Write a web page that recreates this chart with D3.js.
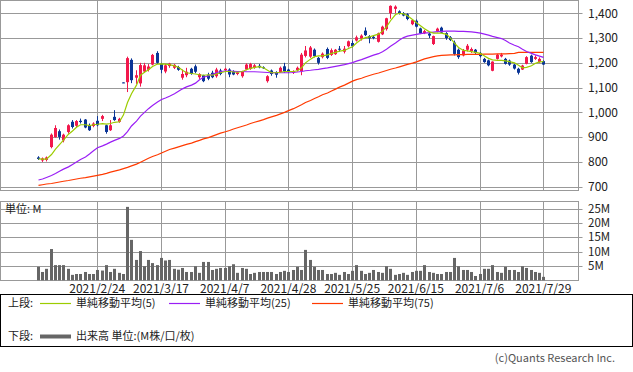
<!DOCTYPE html>
<html lang="ja">
<head>
<meta charset="UTF-8" />
<title>株価チャート</title>
<script src="https://cdn.jsdelivr.net/npm/d3@7"></script>
<style>
  body { margin: 0; background: #fff; }
  svg { display: block; font-family: "Noto Sans CJK JP", "Noto Sans", sans-serif; }
</style>
</head>
<body>
<div id="chart"></div>
<script>
// candle data (index 0 = 2021/2/2 ... 119 = 2021/7/29)
const opens = [818,806,808,860,900,924,887,921,962,946,966,971,948,945,966,974,948,928,982,962,
  1121,1122,1212,1140,1117,1165,1172,1193,1240,1195,1165,1187,1180,1183,1140,1150,1176,1186,1142,1150,
  1152,1160,1146,1169,1170,1173,1166,1155,1146,1173,1175,1180,1188,1182,1126,1169,1163,1163,1186,1173,
  1160,1170,1166,1228,1225,1253,1220,1223,1256,1232,1235,1257,1245,1267,1280,1290,1298,1330,1308,1305,
  1285,1315,1336,1400,1418,1408,1400,1396,1356,1370,1339,1320,1318,1276,1327,1342,1320,1303,1282,1253,
  1230,1253,1247,1253,1240,1216,1210,1168,1216,1226,1216,1209,1193,1176,1173,1196,1229,1216,1203,1207];
const highs = [823,818,822,915,948,931,914,952,969,969,975,973,955,960,985,990,950,969,1009,978,
  1121,1225,1218,1170,1200,1200,1195,1236,1247,1200,1196,1200,1195,1188,1173,1180,1180,1193,1158,1152,
  1160,1168,1180,1176,1180,1178,1170,1166,1168,1198,1200,1195,1195,1186,1150,1173,1166,1185,1200,1176,
  1170,1185,1240,1268,1268,1258,1224,1242,1262,1258,1256,1268,1268,1290,1290,1310,1315,1343,1312,1310,
  1322,1350,1382,1432,1432,1412,1405,1400,1376,1375,1342,1333,1325,1310,1342,1346,1324,1308,1290,1258,
  1256,1276,1262,1256,1244,1220,1213,1206,1236,1240,1220,1213,1196,1180,1192,1227,1233,1230,1222,1210];
const lows = [808,800,802,855,898,890,879,914,935,939,955,936,925,940,944,965,914,925,966,958,
  1118,1082,1118,1115,1104,1160,1165,1190,1195,1158,1158,1180,1175,1168,1132,1142,1152,1158,1135,1122,
  1130,1138,1140,1150,1165,1142,1150,1150,1140,1170,1172,1176,1178,1176,1120,1148,1140,1160,1160,1160,
  1155,1165,1150,1222,1220,1222,1193,1218,1215,1228,1232,1245,1238,1262,1262,1286,1290,1308,1279,1295,
  1282,1312,1330,1378,1400,1395,1388,1372,1352,1343,1316,1316,1300,1272,1323,1320,1293,1288,1230,1216,
  1226,1246,1240,1236,1222,1200,1186,1166,1213,1222,1193,1188,1173,1153,1171,1194,1200,1212,1200,1192];
const closes = [812,814,818,910,937,901,910,948,941,965,961,939,928,955,948,985,921,948,969,974,
  1118,1219,1130,1150,1191,1190,1185,1232,1200,1172,1190,1197,1192,1172,1155,1164,1155,1164,1155,1126,
  1136,1142,1173,1155,1176,1153,1153,1162,1164,1193,1195,1190,1182,1180,1146,1155,1152,1180,1166,1164,
  1166,1180,1233,1250,1262,1227,1200,1237,1220,1251,1253,1254,1257,1287,1267,1303,1310,1312,1299,1300,
  1319,1346,1380,1430,1427,1398,1391,1377,1372,1346,1319,1328,1310,1308,1338,1322,1300,1292,1236,1223,
  1250,1269,1256,1240,1227,1203,1190,1205,1233,1233,1196,1193,1177,1160,1189,1223,1203,1223,1216,1193];

// moving averages
const ma5 = [812,811,811,830,852,870,888,912,925,940,950,950,947,950,952,955,953,955,960,962,
  990,1040,1075,1110,1150,1162,1172,1185,1195,1196,1195,1193,1188,1182,1170,1160,1157,1155,1152,1150,
  1152,1150,1155,1160,1165,1165,1163,1162,1165,1172,1178,1182,1185,1180,1170,1160,1160,1162,1165,1165,
  1165,1168,1180,1200,1215,1225,1228,1228,1232,1238,1242,1247,1250,1258,1265,1280,1295,1302,1305,1310,
  1316,1328,1345,1370,1395,1400,1398,1390,1375,1362,1350,1338,1325,1320,1320,1320,1315,1300,1280,1262,
  1250,1248,1245,1242,1238,1228,1218,1212,1210,1210,1208,1205,1200,1190,1180,1182,1188,1198,1204,1205];
const ma25 = [727,731,737,745,753,762,771,780,790,800,810,820,832,845,857,865,872,880,887,895,
  905,922,945,965,985,1000,1015,1028,1042,1052,1058,1065,1075,1085,1095,1103,1110,1118,1132,1142,
  1148,1154,1160,1165,1167,1167,1166,1165,1165,1164,1164,1164,1163,1162,1161,1160,1160,1160,1160,1160,
  1161,1163,1165,1168,1170,1172,1174,1177,1180,1183,1186,1189,1193,1197,1201,1207,1213,1219,1225,1231,
  1237,1245,1255,1267,1280,1292,1302,1308,1312,1315,1318,1320,1322,1324,1326,1327,1328,1328,1328,1327,
  1327,1326,1325,1323,1320,1316,1312,1307,1302,1298,1290,1280,1271,1265,1255,1246,1238,1232,1227,1222];
const ma75 = [705,708,711,713,716,719,722,725,728,731,734,737,740,743,746,750,754,759,763,768,
  773,778,784,791,799,807,815,822,829,836,843,850,856,861,866,871,876,882,887,893,
  898,904,910,916,922,927,933,938,944,949,955,960,966,971,977,982,988,994,1000,1007,
  1015,1023,1031,1040,1048,1056,1063,1071,1078,1086,1094,1102,1110,1118,1126,1132,1138,1144,1149,1154,
  1159,1164,1169,1174,1179,1184,1189,1194,1199,1204,1210,1216,1221,1225,1228,1230,1231,1232,1232,1233,
  1233,1234,1234,1234,1234,1235,1235,1235,1236,1236,1236,1237,1238,1242,1242,1242,1242,1242,1242,1242];

// volume in millions of shares
const volumes = [4.7,2.9,4.0,10.9,5.3,5.3,5.3,4.0,1.9,2.2,2.2,2.9,2.2,2.2,3.6,3.4,5.3,2.9,4.0,2.6,
  2.2,25.6,14.1,7.1,10.2,4.9,7.1,6.0,5.3,7.8,6.9,7.1,4.0,3.7,4.3,2.9,2.9,4.9,2.6,6.4,
  6.4,3.6,4.0,4.3,4.3,4.9,5.6,2.6,4.3,4.0,2.2,2.6,2.9,2.9,2.9,2.9,2.2,2.9,3.3,2.9,
  3.6,4.7,3.6,10.6,7.1,4.7,3.6,3.6,2.2,2.2,2.6,1.9,2.9,2.2,3.3,5.3,3.3,2.2,2.6,3.6,
  2.9,2.6,4.9,4.0,1.9,2.2,2.6,1.9,2.9,3.3,3.3,5.3,2.9,2.6,2.2,2.2,2.9,2.9,7.8,4.9,
  3.6,3.6,2.9,1.5,2.2,4.0,4.0,5.3,2.9,2.6,4.7,3.6,3.6,2.9,4.9,4.3,3.6,2.9,2.6,1.2];

const tickIndex = [14, 29, 44, 59, 74, 89, 104, 119];
const tickLabels = ["2021/2/24","2021/3/17","2021/4/7","2021/4/28","2021/5/25","2021/6/15","2021/7/6","2021/7/29"];
const priceTicks = [700,800,900,1000,1100,1200,1300,1400];
const volumeTicks = [5,10,15,20,25];

const upColor = "#f2184c";
const downColor = "#0a3597";
const gridColor = "#999";

let width = 633, height = 372;
let plotLeft = 0.5, plotRight = 578.5;

let svg = d3.select("#chart").append("svg")
  .attr("width", width).attr("height", height);

let x = d3.scaleLinear().domain([0, 119]).range([37.8, 543.3]);
let y = d3.scaleLinear().domain([700, 1400]).range([186.7, 13.3]);
let yv = d3.scaleLinear().domain([0, 25]).range([280.3, 208.6]);

const px = v => Math.round(v);

// ---- price panel ----
let pricePanel = svg.append("g");
pricePanel.append("clipPath").attr("id", "clipTop").append("rect")
  .attr("x", 0).attr("y", 0).attr("width", 578).attr("height", 190);

pricePanel.selectAll("line.hgrid").data(priceTicks).enter().append("line")
  .attr("x1", plotLeft).attr("x2", plotRight + 4)
  .attr("y1", d => px(y(d)) + 0.5).attr("y2", d => px(y(d)) + 0.5)
  .attr("stroke", gridColor);
pricePanel.selectAll("line.vgrid").data(tickIndex).enter().append("line")
  .attr("x1", d => px(x(d)) + 0.5).attr("x2", d => px(x(d)) + 0.5)
  .attr("y1", 0.5).attr("y2", 190.5)
  .attr("stroke", gridColor);
pricePanel.append("rect").attr("x", plotLeft).attr("y", 0.5)
  .attr("width", plotRight - plotLeft).attr("height", 190)
  .attr("fill", "none").attr("stroke", gridColor);

pricePanel.selectAll("text.ylab").data(priceTicks).enter().append("text")
  .attr("x", 588).attr("y", d => y(d))
  .attr("dy", "0.35em").attr("font-size", 12).attr("fill", "#222")
  .text(d => d3.format(",")(d));

let idx = d3.range(opens.length);
let candles = pricePanel.append("g").attr("clip-path", "url(#clipTop)");
candles.selectAll("line.wick").data(idx).enter().append("line")
  .attr("x1", i => px(x(i)) + 0.5).attr("x2", i => px(x(i)) + 0.5)
  .attr("y1", i => y(highs[i])).attr("y2", i => y(lows[i]))
  .attr("stroke", i => closes[i] >= opens[i] ? upColor : downColor);
candles.selectAll("rect.body").data(idx).enter().append("rect")
  .attr("x", i => px(x(i)) - 1)
  .attr("width", 3)
  .attr("y", i => y(Math.max(opens[i], closes[i])))
  .attr("height", i => Math.max(1, Math.abs(y(opens[i]) - y(closes[i]))))
  .attr("fill", i => closes[i] >= opens[i] ? upColor : downColor);

let line = arr => d3.line().x((d, i) => px(x(i)) + 0.5).y(d => y(d))(arr);
candles.append("path").attr("d", line(ma75)).attr("fill", "none")
  .attr("stroke", "#ff3a00").attr("stroke-width", 1.2);
candles.append("path").attr("d", line(ma25)).attr("fill", "none")
  .attr("stroke", "#9a1ef5").attr("stroke-width", 1.2);
candles.append("path").attr("d", line(ma5)).attr("fill", "none")
  .attr("stroke", "#9ccc00").attr("stroke-width", 1.2);

// ---- volume panel ----
let volumePanel = svg.append("g");
volumePanel.selectAll("line.hgrid").data(volumeTicks).enter().append("line")
  .attr("x1", plotLeft).attr("x2", plotRight + 4)
  .attr("y1", d => px(yv(d)) + 0.5).attr("y2", d => px(yv(d)) + 0.5)
  .attr("stroke", gridColor);
volumePanel.selectAll("line.vgrid").data(tickIndex).enter().append("line")
  .attr("x1", d => px(x(d)) + 0.5).attr("x2", d => px(x(d)) + 0.5)
  .attr("y1", 201.5).attr("y2", 280.5)
  .attr("stroke", gridColor);
volumePanel.append("rect").attr("x", plotLeft).attr("y", 201.5)
  .attr("width", plotRight - plotLeft).attr("height", 79)
  .attr("fill", "none").attr("stroke", gridColor);

volumePanel.selectAll("rect.vol").data(idx).enter().append("rect")
  .attr("x", i => px(x(i)) - 1).attr("width", 3)
  .attr("y", i => yv(volumes[i])).attr("height", i => yv(0) - yv(volumes[i]))
  .attr("fill", "#666");

volumePanel.selectAll("text.vlab").data(volumeTicks).enter().append("text")
  .attr("x", 588).attr("y", d => yv(d))
  .attr("dy", "0.35em").attr("font-size", 11.5).attr("fill", "#222")
  .text(d => d + "M");
volumePanel.append("text").attr("x", 5).attr("y", 209).attr("dy", "0.35em")
  .attr("font-size", 11).attr("fill", "#222").text("単位: M");

svg.selectAll("text.xlab").data(tickIndex).enter().append("text")
  .attr("x", d => x(d)).attr("y", 288.5).attr("dy", "0.35em")
  .attr("text-anchor", "middle").attr("font-size", 12).attr("fill", "#222")
  .text((d, i) => tickLabels[i]);

// ---- legend ----
let legend = svg.append("g").attr("font-size", 11).attr("fill", "#222");
legend.append("rect").attr("x", 0.5).attr("y", 294.5).attr("width", 632).attr("height", 52)
  .attr("fill", "none").attr("stroke", "#000");

const legendItems = [
  { label: "単純移動平均(5)", color: "#9ccc00", x: 40 },
  { label: "単純移動平均(25)", color: "#9a1ef5", x: 169 },
  { label: "単純移動平均(75)", color: "#ff3a00", x: 312 }
];
legend.append("text").attr("x", 8).attr("y", 303.5).attr("dy", "0.35em").text("上段:");
legendItems.forEach(d => {
  legend.append("line").attr("x1", d.x).attr("x2", d.x + 31)
    .attr("y1", 303.5).attr("y2", 303.5).attr("stroke", d.color).attr("stroke-width", 1.2);
  legend.append("text").attr("x", d.x + 36).attr("y", 303.5).attr("dy", "0.35em").text(d.label);
});
legend.append("text").attr("x", 8).attr("y", 336.5).attr("dy", "0.35em").text("下段:");
legend.append("line").attr("x1", 40).attr("x2", 71).attr("y1", 336.5).attr("y2", 336.5)
  .attr("stroke", "#666").attr("stroke-width", 4);
legend.append("text").attr("x", 76).attr("y", 336.5).attr("dy", "0.35em").text("出来高 単位:(M株/口/枚)");

svg.append("text").attr("x", 615).attr("y", 358).attr("dy", "0.35em")
  .attr("text-anchor", "end").attr("font-size", 11).attr("fill", "#555")
  .text("(c)Quants Research Inc.");
</script>
</body>
</html>
